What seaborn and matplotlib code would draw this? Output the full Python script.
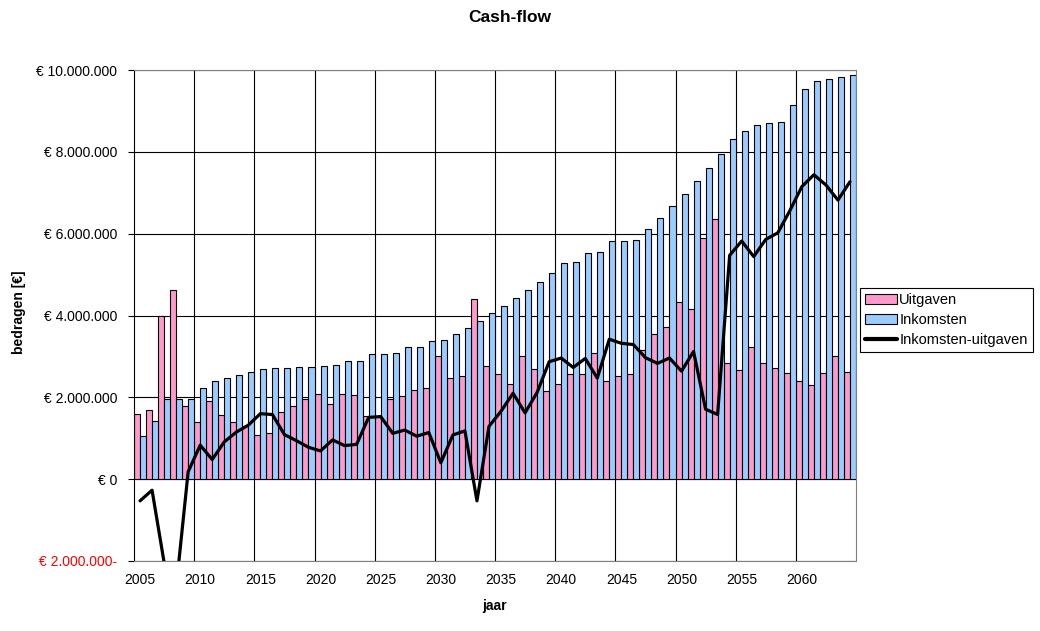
import numpy as np
import pandas as pd
import matplotlib
matplotlib.use('Agg')
import matplotlib.pyplot as plt
import seaborn as sns
from matplotlib.patches import Patch
from matplotlib.lines import Line2D

# jaren en bedragen (in miljoen euro)
jaren = list(range(2005, 2065))

uitgaven = [1.585, 1.68, 3.99, 4.62, 1.78, 1.39, 1.91, 1.56, 1.39, 1.30,
            1.09, 1.14, 1.63, 1.80, 1.96, 2.08, 1.83, 2.08, 2.05, 1.54,
            1.52, 1.96, 2.03, 2.18, 2.24, 3.01, 2.47, 2.52, 4.40, 2.77,
            2.56, 2.32, 3.01, 2.69, 2.16, 2.32, 2.57, 2.57, 3.08, 2.39,
            2.51, 2.56, 3.15, 3.56, 3.72, 4.34, 4.17, 5.90, 6.37, 2.85,
            2.68, 3.22, 2.85, 2.71, 2.59, 2.39, 2.29, 2.59, 3.01, 2.61]

inkomsten = [1.05, 1.41, 1.96, 1.96, 1.96, 2.22, 2.39, 2.47, 2.54, 2.62,
             2.69, 2.72, 2.72, 2.74, 2.74, 2.77, 2.79, 2.90, 2.90, 3.05,
             3.05, 3.08, 3.23, 3.23, 3.38, 3.41, 3.55, 3.70, 3.87, 4.06,
             4.22, 4.42, 4.63, 4.81, 5.03, 5.28, 5.30, 5.52, 5.55, 5.81,
             5.83, 5.85, 6.12, 6.39, 6.68, 6.98, 7.29, 7.61, 7.95, 8.32,
             8.50, 8.66, 8.71, 8.73, 9.15, 9.54, 9.73, 9.78, 9.83, 9.88]

saldo = [-0.53, -0.27, -2.03, -2.66, 0.18, 0.83, 0.48, 0.91, 1.15, 1.32,
         1.60, 1.58, 1.09, 0.94, 0.78, 0.69, 0.96, 0.82, 0.85, 1.51,
         1.53, 1.12, 1.20, 1.05, 1.14, 0.40, 1.08, 1.18, -0.53, 1.29,
         1.66, 2.10, 1.62, 2.12, 2.87, 2.96, 2.73, 2.95, 2.47, 3.42,
         3.32, 3.29, 2.97, 2.83, 2.96, 2.64, 3.12, 1.71, 1.58, 5.47,
         5.82, 5.44, 5.86, 6.02, 6.56, 7.15, 7.44, 7.19, 6.82, 7.27]

y_ticks = [-2e6, 0, 2e6, 4e6, 6e6, 8e6, 10e6]
kleuren = {'Uitgaven': '#FF99CC', 'Inkomsten': '#99CCFF'}

sns.set_style('white')
plt.rcParams['font.family'] = ['Liberation Sans', 'DejaVu Sans']
plt.rcParams['text.color'] = 'black'
plt.rcParams['xtick.color'] = 'black'
plt.rcParams['ytick.color'] = 'black'

df = pd.DataFrame({
    'jaar': jaren * 2,
    'bedrag': np.array(uitgaven + inkomsten) * 1e6,
    'soort': ['Uitgaven'] * len(jaren) + ['Inkomsten'] * len(jaren),
})

fig = plt.figure(figsize=(10.4, 6.31), dpi=100)
ax = fig.add_axes([134 / 1040, 1 - 561 / 631, 722 / 1040, 491 / 631])

sns.barplot(data=df, x='jaar', y='bedrag', hue='soort', order=jaren,
            hue_order=['Uitgaven', 'Inkomsten'], palette=kleuren,
            saturation=1, width=1, gap=0, edgecolor='black', linewidth=0.8,
            errorbar=None, legend=False, ax=ax)
sns.lineplot(x=np.arange(len(jaren)), y=np.array(saldo) * 1e6,
             color='black', linewidth=2.3, ax=ax, zorder=5)

# assen
ax.set_xlim(-0.5, len(jaren) - 0.5)
ax.set_ylim(-2e6, 10e6)


def euro(v):
    s = '€ ' + f'{abs(v):,.0f}'.replace(',', '.')
    return s + '-' if v < 0 else s


ax.set_yticks(y_ticks, labels=[euro(v) for v in y_ticks])
for lab, v in zip(ax.get_yticklabels(), y_ticks):
    lab.set_color('red' if v < 0 else 'black')

ax.set_xticks(range(0, len(jaren), 5), labels=[str(j) for j in jaren[::5]])
ax.set_xticks(np.arange(4.5, len(jaren) - 1, 5), minor=True)

ax.set_axisbelow(True)
ax.grid(False)
ax.grid(axis='y', which='major', color='black', linewidth=0.8)
ax.grid(axis='x', which='minor', color='black', linewidth=0.8)

ax.tick_params(axis='y', direction='out', length=4, width=0.8, color='black',
               left=True, pad=8, labelsize=10)
ax.tick_params(axis='x', which='both', length=0, pad=9, labelsize=10)
ax.set_xlabel('')
ax.set_ylabel('')

for s in ['top', 'right', 'bottom']:
    ax.spines[s].set_color('#808080')
    ax.spines[s].set_linewidth(0.8)
ax.spines['left'].set_color('black')
ax.spines['left'].set_linewidth(0.8)

# titels
fig.text(510 / 1040, 1 - 18 / 631, 'Cash-flow', ha='center', va='center',
         fontsize=12.5, fontweight='bold')
fig.text(495 / 1040, 1 - 606 / 631, 'jaar', ha='center', va='center',
         fontsize=10, fontweight='bold')
fig.text(19 / 1040, 1 - 312 / 631, 'bedragen [€]', ha='center', va='center',
         rotation=90, fontsize=10, fontweight='bold')

# legenda
handles = [Patch(facecolor=kleuren['Uitgaven'], edgecolor='black', linewidth=0.8),
           Patch(facecolor=kleuren['Inkomsten'], edgecolor='black', linewidth=0.8),
           Line2D([], [], color='black', linewidth=3)]
leg = fig.legend(handles, ['Uitgaven', 'Inkomsten', 'Inkomsten-uitgaven'],
                 loc='center left', bbox_to_anchor=(860 / 1040, 1 - 320 / 631),
                 frameon=True, fancybox=False, edgecolor='black', framealpha=1,
                 fontsize=10.5, handlelength=2.2, handletextpad=0.15,
                 borderpad=0.35, labelspacing=0.4, borderaxespad=0)
leg.get_frame().set_linewidth(0.8)

fig.savefig('out.png', dpi=100)
